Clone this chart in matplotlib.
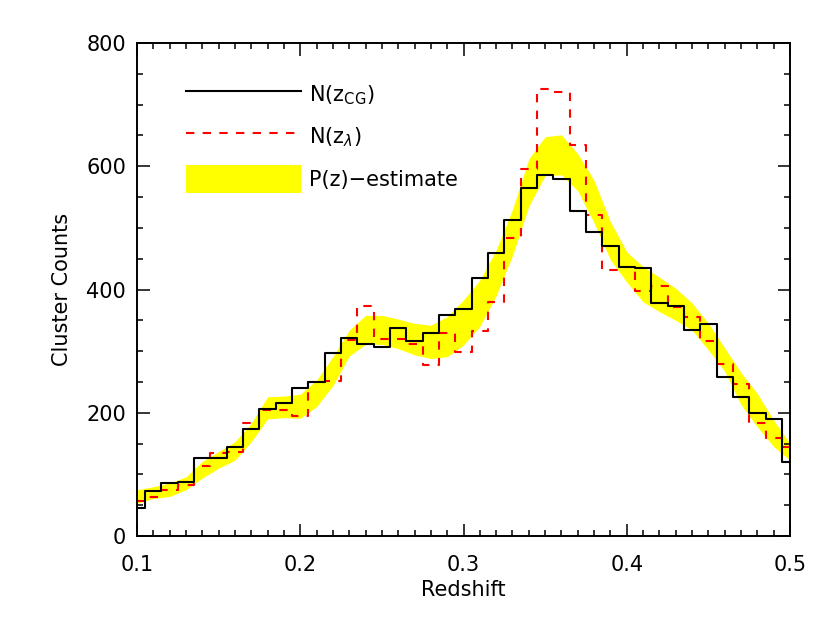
import numpy as np
import matplotlib
matplotlib.use("Agg")
import matplotlib.pyplot as plt
from matplotlib.lines import Line2D
from matplotlib.patches import Patch
from matplotlib.ticker import MultipleLocator

# redshift grid (histogram drawn IDL psym=10 style, steps at mid-points)
z = np.round(np.arange(0.10, 0.5001, 0.01), 2)

# N(z_CG)
n_cg = [46, 73, 86, 88, 126, 126, 144, 173, 206, 216,
        240, 250, 297, 322, 312, 307, 337, 316, 329, 358,
        368, 418, 460, 513, 565, 586, 580, 527, 493, 471,
        436, 435, 378, 374, 334, 344, 258, 226, 200, 190,
        120]

# N(z_lambda)
n_lam = [56, 64, 74, 82, 114, 135, 136, 184, 205, 204,
         195, 250, 252, 318, 373, 320, 320, 311, 278, 329,
         299, 333, 380, 483, 595, 725, 720, 635, 521, 432,
         436, 398, 406, 372, 356, 317, 279, 246, 184, 159,
         144]

# P(z)-estimate band
pz_hi = [75, 80, 86, 96, 121, 137, 153, 183, 226, 227,
         230, 253, 291, 334, 358, 358, 352, 345, 342, 356,
         383, 415, 464, 530, 612, 648, 651, 620, 577, 510,
         461, 437, 420, 402, 378, 345, 305, 265, 231, 188,
         150]
pz_lo = [53, 61, 64, 75, 94, 110, 123, 153, 190, 192,
         191, 210, 244, 292, 311, 311, 304, 294, 288, 291,
         310, 340, 390, 455, 535, 585, 586, 560, 508, 448,
         412, 380, 364, 350, 334, 302, 267, 213, 177, 145,
         123]

fig = plt.figure(figsize=(8.3, 6.23), dpi=100)
ax = fig.add_axes([137/830, 1 - 536/623, (790 - 137)/830, (536 - 43)/623])

ax.fill_between(z, pz_lo, pz_hi, color="yellow", lw=0, zorder=1)
ax.step(z, n_lam, where="mid", color="red", lw=1.5, dashes=(4, 4), zorder=2)
ax.step(z, n_cg, where="mid", color="black", lw=1.5, zorder=3)

ax.set_xlim(0.1, 0.5)
ax.set_ylim(0, 800)
ax.xaxis.set_major_locator(MultipleLocator(0.1))
ax.xaxis.set_minor_locator(MultipleLocator(0.01))
ax.yaxis.set_major_locator(MultipleLocator(200))
ax.yaxis.set_minor_locator(MultipleLocator(50))
ax.tick_params(which="both", direction="in", top=True, right=True, width=1.1)
ax.tick_params(which="major", length=9, labelsize=15, pad=8)
ax.tick_params(axis="x", which="major", pad=14)
ax.tick_params(which="minor", length=4.5)
for s in ax.spines.values():
    s.set_linewidth(1.4)

ax.set_xlabel("Redshift", fontsize=15, labelpad=3)
ax.set_ylabel("Cluster Counts", fontsize=15, labelpad=10)

handles = [Line2D([], [], color="black", lw=1.5),
           Line2D([], [], color="red", lw=1.5, dashes=(4, 4)),
           Patch(facecolor="yellow", edgecolor="none")]
labels = [r"N(z$_{\rm CG}$)", r"N(z$_{\lambda}$)", "P(z)\u2212estimate"]
ax.legend(handles, labels, loc="upper left", bbox_to_anchor=(0.047, 0.962),
          frameon=False, fontsize=15, handlelength=5.5, handleheight=1.67,
          handletextpad=0.4, labelspacing=0.7)

fig.savefig("out.png", dpi=100)
